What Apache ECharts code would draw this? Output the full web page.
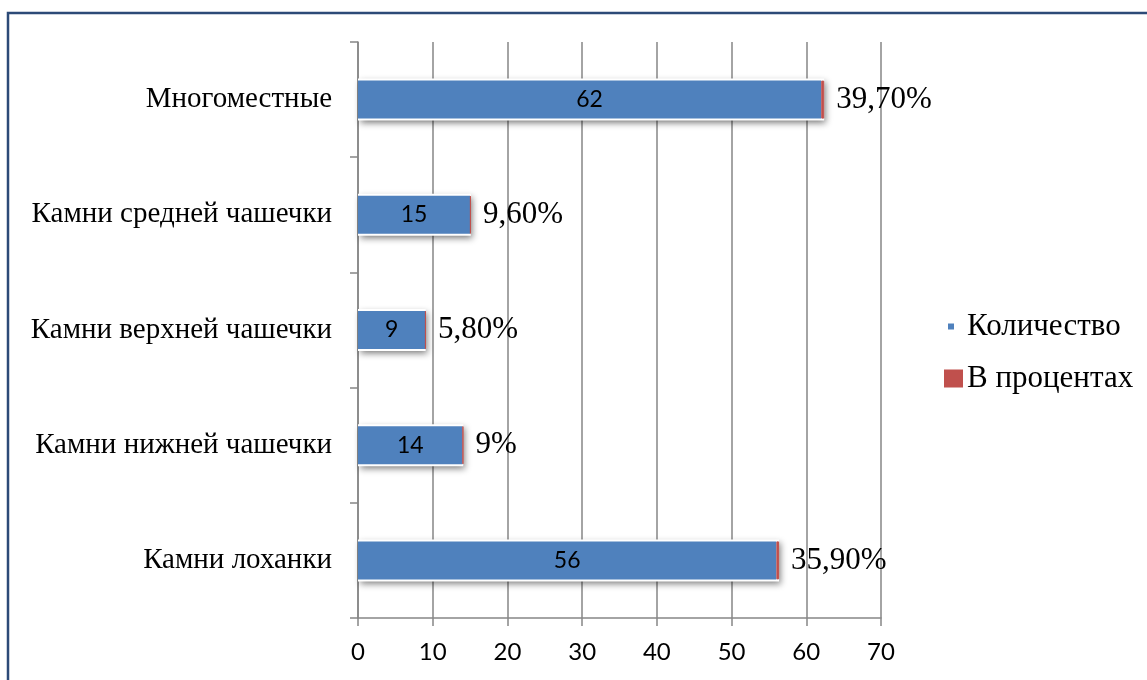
<!DOCTYPE html>
<html><head><meta charset="utf-8">
<script src="https://cdn.jsdelivr.net/npm/echarts@6/dist/echarts.min.js"></script>
<style>html,body{margin:0;padding:0;background:#fff}#c{width:1147px;height:680px}</style>
</head><body><div id="c"></div>
<script>
const categories = ['Камни лоханки', 'Камни нижней чашечки', 'Камни верхней чашечки', 'Камни средней чашечки', 'Многоместные'];
const counts = [56, 14, 9, 15, 62];
const percents = [35.9, 9, 5.8, 9.6, 39.7];
const xTicks = [0, 10, 20, 30, 40, 50, 60, 70];
const seriesNames = ['Количество', 'В процентах'];

const pctShare = percents.map(p => p / 100);
const totals = counts.map((c, i) => c + pctShare[i]);
const fmtPct = p => (Number.isInteger(p) ? String(p) : p.toFixed(2).replace('.', ',')) + '%';

const chart = echarts.init(document.getElementById('c'));
chart.setOption({
  animation: false,
  backgroundColor: '#fff',
  graphic: [{
    type: 'rect', shape: { x: 8, y: 13, width: 1300, height: 800 },
    style: { fill: 'none', stroke: '#2c4a77', lineWidth: 2.5 }, z: 100
  }],
  grid: { left: 358, right: 266, top: 42, bottom: 62 },
  xAxis: {
    type: 'value', min: xTicks[0], max: xTicks[xTicks.length - 1], interval: 10,
    axisLine: { show: true, lineStyle: { color: '#868686', width: 1.5 } },
    axisTick: { show: true, length: 8, lineStyle: { color: '#868686', width: 1.5 } },
    splitLine: { show: true, lineStyle: { color: '#868686', width: 1.5 } },
    axisLabel: { margin: 22, fontFamily: 'Lato', fontSize: 24, color: '#000' }
  },
  yAxis: [{
    type: 'category', data: categories,
    axisLine: { show: true, lineStyle: { color: '#868686', width: 1.5 } },
    axisTick: { show: true, length: 8, lineStyle: { color: '#868686', width: 1.5 } },
    axisLabel: { margin: 26, fontFamily: 'Liberation Serif', fontSize: 29, color: '#000' }
  }, {
    type: 'category', data: categories, show: false
  }],
  legend: [{
    data: [{ name: seriesNames[0], icon: 'rect' }],
    left: 943, top: 306, orient: 'vertical',
    itemWidth: 6, itemHeight: 6,
    textStyle: { fontFamily: 'Liberation Serif', fontSize: 31, color: '#000', padding: [0, 0, 0, 8] }
  }, {
    data: [{ name: seriesNames[1], icon: 'rect' }],
    left: 939, top: 358, orient: 'vertical',
    itemWidth: 17, itemHeight: 16,
    textStyle: { fontFamily: 'Liberation Serif', fontSize: 31, color: '#000' }
  }],
  series: [{
    name: 'box', type: 'bar', yAxisIndex: 1, data: totals, barWidth: 42, silent: true,
    itemStyle: { color: '#fff', borderColor: '#fff', borderWidth: 10,
      shadowBlur: 6, shadowColor: 'rgba(0,0,0,0.4)', shadowOffsetX: 2, shadowOffsetY: 3 },
    z: 1
  }, {
    name: seriesNames[0], type: 'bar', stack: 's', data: counts, barWidth: 38,
    itemStyle: { color: '#4f81bd' },
    label: { show: true, position: 'inside', fontFamily: 'Lato', fontSize: 23, color: '#000' },
    z: 3
  }, {
    name: seriesNames[1], type: 'bar', stack: 's', data: pctShare, barWidth: 38,
    itemStyle: { color: '#c0504d', borderColor: '#c0504d', borderWidth: 1 },
    label: { show: true, position: 'right', distance: 12, fontFamily: 'Liberation Serif', fontSize: 31, color: '#000',
      formatter: p => fmtPct(percents[p.dataIndex]) },
    z: 3
  }]
});
</script></body></html>
